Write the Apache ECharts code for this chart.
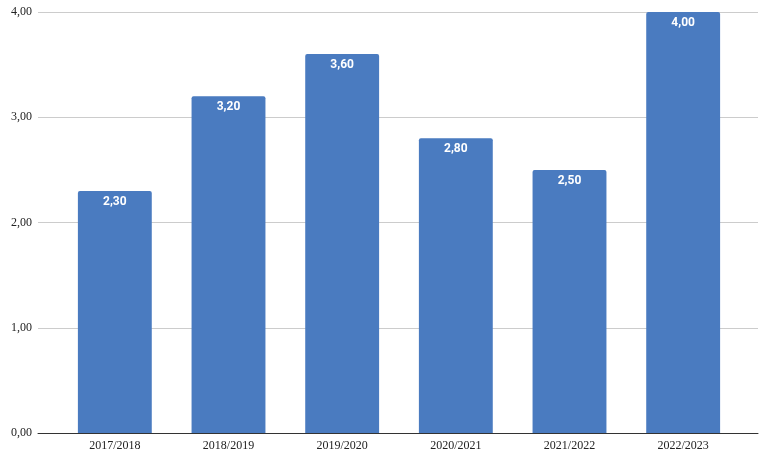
<!DOCTYPE html>
<html><head><meta charset="utf-8">
<script src="https://cdn.jsdelivr.net/npm/echarts@6/dist/echarts.min.js"></script>
<style>html,body{margin:0;padding:0;background:#fff}#c{width:767px;height:454px}</style>
</head><body><div id="c"></div>
<script>
const categories = ['2017/2018','2018/2019','2019/2020','2020/2021','2021/2022','2022/2023'];
const values = [2.30, 3.20, 3.60, 2.80, 2.50, 4.00];
const yTicks = [0, 1, 2, 3, 4];

const fmt = v => v.toFixed(2).replace('.', ',');
const chart = echarts.init(document.getElementById('c'));
chart.setOption({
  animation: false,
  grid: [
    {left: 38, right: 9, top: 12, bottom: 21},
    {left: 58, right: 27, top: 12, bottom: 21}
  ],
  xAxis: [
    {type: 'value', gridIndex: 0, min: 0, max: 1, show: true,
     axisLine: {show: true, lineStyle: {color: '#333', width: 1}},
     axisTick: {show: false}, axisLabel: {show: false}, splitLine: {show: false}},
    {type: 'category', gridIndex: 1, data: categories,
     axisLine: {show: false}, axisTick: {show: false},
     axisLabel: {color: '#222', fontFamily: 'Liberation Serif', fontSize: 12, margin: 7}}
  ],
  yAxis: [
    {type: 'value', gridIndex: 0, min: yTicks[0], max: yTicks[yTicks.length-1], interval: 1,
     axisLine: {show: false}, axisTick: {show: false},
     axisLabel: {color: '#222', fontFamily: 'Liberation Serif', fontSize: 12, margin: 6, formatter: fmt},
     splitLine: {lineStyle: {color: '#cccccc', width: 1}}},
    {type: 'value', gridIndex: 1, min: yTicks[0], max: yTicks[yTicks.length-1], interval: 1, show: false,
     splitLine: {show: false}}
  ],
  series: [{
    type: 'bar', xAxisIndex: 1, yAxisIndex: 1, data: values, barWidth: '65%',
    itemStyle: {color: '#4a7bc0', borderRadius: [2, 2, 0, 0]},
    label: {show: true, position: 'insideTop', distance: 5, color: '#fff',
      fontFamily: 'Roboto', fontWeight: 'bold', fontSize: 12, formatter: p => fmt(p.value)}
  }]
});
</script></body></html>
